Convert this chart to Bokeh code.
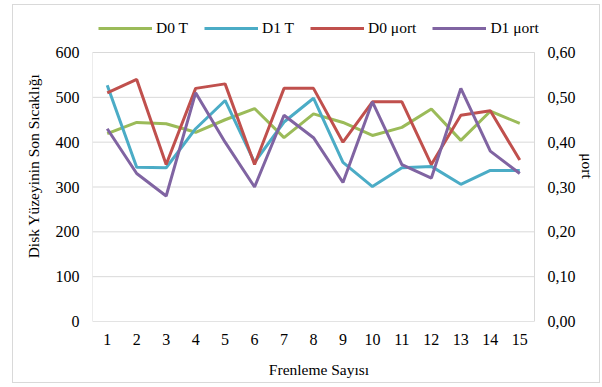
from bokeh.plotting import figure
from bokeh.models import (Range1d, LinearAxis, FixedTicker, CustomJSTickFormatter,
                          Legend, LegendItem, ColumnDataSource)
from bokeh.embed import file_html
from bokeh.resources import INLINE

frenleme = list(range(1, 16))
d0_t = [419, 444, 441, 422, 450, 475, 410, 463, 444, 415, 433, 474, 404, 469, 442]
d1_t = [527, 344, 343, 430, 493, 355, 445, 498, 355, 301, 343, 346, 306, 337, 337]
d0_mu = [0.51, 0.54, 0.35, 0.52, 0.53, 0.35, 0.52, 0.52, 0.40, 0.49, 0.49, 0.35, 0.46, 0.47, 0.36]
d1_mu = [0.43, 0.33, 0.28, 0.51, 0.40, 0.30, 0.46, 0.41, 0.31, 0.49, 0.35, 0.32, 0.52, 0.38, 0.33]
left_ticks = [0, 100, 200, 300, 400, 500, 600]
right_ticks = [0.0, 0.1, 0.2, 0.3, 0.4, 0.5, 0.6]

src = ColumnDataSource(dict(x=frenleme, d0_t=d0_t, d1_t=d1_t, d0_mu=d0_mu, d1_mu=d1_mu))

FONT = "Liberation Serif"
FS = "15.5px"
GRID = "#d9d9d9"

# plot area: y 0..600 / x 0.5..15.5 shown, extra room above for legend and right of box
YTOP = 600 + 42 * 600 / 269.0
XEND = 15.5 + 11 * 15 / 442.0
p = figure(width=588, height=379, output_backend="svg", toolbar_location=None,
           x_range=Range1d(0.5, XEND), y_range=Range1d(0, YTOP),
           min_border_left=79, min_border_right=56, min_border_top=5, min_border_bottom=63,
           styles={"margin-left": "12px", "margin-top": "4px",
                   "border": "1px solid #d9d9d9"})
p.extra_y_ranges = {"mu": Range1d(0, YTOP / 1000.0)}

p.outline_line_color = None
p.xgrid.grid_line_color = None
p.ygrid.grid_line_color = None

# horizontal gridlines and plot-area box
p.segment(x0=[0.5] * len(left_ticks), x1=[15.5] * len(left_ticks), y0=left_ticks, y1=left_ticks,
          line_color=GRID, line_width=1)
p.quad(left=[0.5], right=[15.5], bottom=[0], top=[600], fill_color=None,
       line_color=GRID, line_width=1)

def style_axis(ax):
    ax.axis_line_color = None
    ax.major_tick_line_color = None
    ax.minor_tick_line_color = None
    ax.major_tick_out = 0
    ax.major_tick_in = 0
    ax.minor_tick_out = 0
    ax.minor_tick_in = 0
    ax.major_label_text_font = FONT
    ax.major_label_text_font_size = "16px"
    ax.major_label_text_color = "black"
    ax.axis_label_text_font = FONT
    ax.axis_label_text_font_size = FS
    ax.axis_label_text_font_style = "normal"
    ax.axis_label_text_color = "black"

xa = p.xaxis[0]
style_axis(xa)
xa.ticker = FixedTicker(ticks=frenleme)
xa.axis_label = "Frenleme Sayısı"
xa.major_label_standoff = 12
xa.axis_label_standoff = 13

ya = p.yaxis[0]
style_axis(ya)
ya.ticker = FixedTicker(ticks=left_ticks)
ya.axis_label = "Disk Yüzeyinin Son Sıcaklığı"
ya.major_label_standoff = 13
ya.axis_label_standoff = 11

ra = LinearAxis(y_range_name="mu", ticker=FixedTicker(ticks=right_ticks),
                formatter=CustomJSTickFormatter(code="return tick.toFixed(2).replace('.', ',');"),
                axis_label="μort")
style_axis(ra)
ra.major_label_standoff = 2
ra.axis_label_standoff = 0
p.add_layout(ra, "right")

W = 3
r1 = p.line("x", "d0_t", source=src, line_color="#9BBB59", line_width=W)
r2 = p.line("x", "d1_t", source=src, line_color="#4BACC6", line_width=W)
r3 = p.line("x", "d0_mu", source=src, line_color="#C0504D", line_width=W, y_range_name="mu")
r4 = p.line("x", "d1_mu", source=src, line_color="#8064A2", line_width=W, y_range_name="mu")

legend = Legend(items=[LegendItem(label="D0 T", renderers=[r1]),
                       LegendItem(label="D1 T", renderers=[r2]),
                       LegendItem(label="D0 μort", renderers=[r3]),
                       LegendItem(label="D1 μort", renderers=[r4])],
                orientation="horizontal", location=(6, 284),
                glyph_width=54, glyph_height=10, label_standoff=4, spacing=16,
                label_text_font=FONT, label_text_font_size=FS, label_text_color="black",
                border_line_color=None, background_fill_alpha=0, padding=0, margin=0)
p.add_layout(legend, "center")

open("out.html", "w").write(file_html(p, INLINE))
